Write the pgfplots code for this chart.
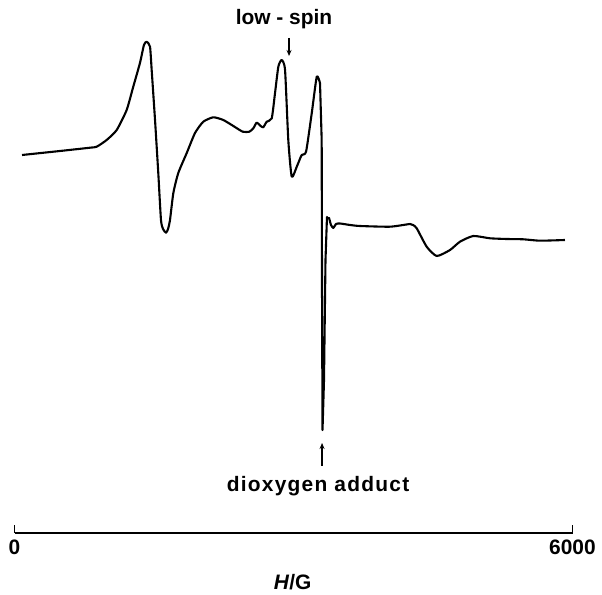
\documentclass[border=0pt]{standalone}
\usepackage{fontspec}
\setmainfont{Liberation Sans}
\usepackage{pgfplots}
\pgfplotsset{compat=1.18}
\usetikzlibrary{arrows.meta}
\begin{document}
\begin{tikzpicture}
\path[use as bounding box] (-14.5bp,-62bp) rectangle (587.5bp,533bp);
\begin{axis}[
  at={(0,0)}, anchor=south west,
  scale only axis, width=558bp, height=533bp,
  xmin=0, xmax=6000, ymin=-533, ymax=0,
  axis x line=bottom, axis y line=none,
  x axis line style={-, line width=1.2bp},
  xtick={0,6000}, xticklabels={0,6000},
  tick align=inside, major tick length=8bp,
  tick style={black, line width=1.2bp},
  xticklabel style={font=\fontsize{21}{24}\selectfont\bfseries, yshift=-3bp},
  /pgf/number format/assume math mode=true,
  clip=false,
]
\addplot[black, line width=2.1bp, line join=round, smooth, tension=0.35] coordinates {
(81,-155) (489,-151) (812,-147.7) (884,-146.7) (991,-140) (1099,-130)
(1206,-110) (1277,-86.7) (1349,-63) (1392,-45) (1421,-41.7) (1457,-46.7)
(1475,-70) (1511,-120) (1546,-173) (1575,-220) (1597,-229) (1629,-232.7)
(1651,-229) (1672,-220) (1708,-193) (1761,-173) (1852,-153) (1941,-133)
(2030,-121.7) (2138,-117.3) (2245,-120) (2353,-126) (2454,-131.7) (2525,-131.7)
(2568,-128.3) (2604,-122.7) (2647,-126) (2675,-127.3) (2712,-121.7) (2766,-118.3)
(2801,-93.3) (2837,-66.7) (2873,-60) (2909,-70) (2944,-140) (2981,-176.7)
(3035,-166.7) (3088,-155) (3135,-151.7) (3196,-113.3) (3250,-76.7) (3285,-83)
};
\addplot[black, line width=2.1bp, line join=round] coordinates {
(3285,-83) (3303,-140) (3307,-300) (3312,-430) (3328,-380) (3344,-260) (3360,-217)
(3371,-219)
};
\addplot[black, line width=2.1bp, line join=round, smooth, tension=0.35] coordinates {
(3371,-219) (3382,-218) (3403,-225) (3428,-228) (3457,-224) (3500,-223.5)
(3608,-225) (3715,-226) (4038,-226.7) (4253,-224) (4285,-225) (4325,-228.3)
(4432,-246.7) (4540,-256) (4683,-250) (4790,-241.7) (4933,-236) (5113,-238.3)
(5292,-239) (5471,-239.3) (5650,-240.7) (5919,-240)
};
\node[font=\fontsize{21}{24}\selectfont\bfseries] at (axis cs:2898,-19) {low - spin};
\draw[-{Stealth[length=6bp,width=5bp]}, line width=1.4bp] (axis cs:2952,-38) -- (axis cs:2952,-56);
\draw[-{Stealth[length=6bp,width=5bp]}, line width=1.4bp] (axis cs:3307,-466) -- (axis cs:3307,-443);
\node[font=\fontsize{21}{24}\selectfont\bfseries\addfontfeature{LetterSpace=6}] at (axis cs:3264,-486) {dioxygen adduct};
\node[font=\fontsize{21}{24}\selectfont\bfseries] at (axis cs:2990,-582) {\textit{H}/G};
\end{axis}
\end{tikzpicture}
\end{document}
